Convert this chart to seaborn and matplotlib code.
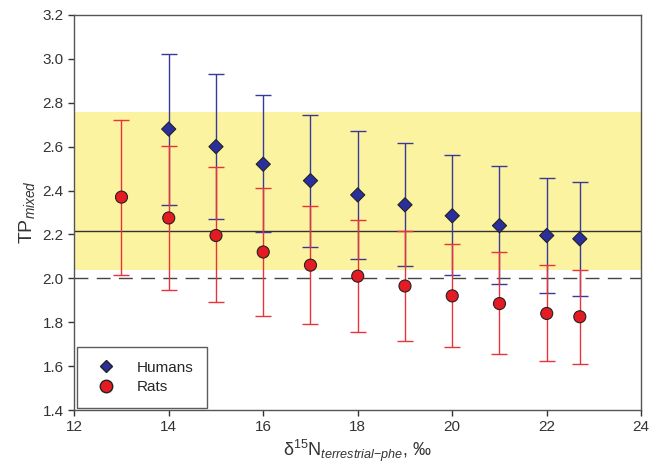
import numpy as np
import pandas as pd
import matplotlib
matplotlib.use("Agg")
import matplotlib.pyplot as plt
import seaborn as sns
from matplotlib.lines import Line2D

# data
human_x = [14, 15, 16, 17, 18, 19, 20, 21, 22, 22.7]
human_tp = [2.68, 2.60, 2.52, 2.445, 2.38, 2.335, 2.285, 2.24, 2.195, 2.18]
human_hi = [3.02, 2.93, 2.835, 2.745, 2.67, 2.615, 2.56, 2.51, 2.455, 2.44]
human_lo = [2.335, 2.27, 2.21, 2.145, 2.09, 2.055, 2.015, 1.975, 1.935, 1.92]

rat_x = [13, 14, 15, 16, 17, 18, 19, 20, 21, 22, 22.7]
rat_tp = [2.37, 2.275, 2.195, 2.12, 2.06, 2.01, 1.965, 1.92, 1.885, 1.84, 1.825]
rat_hi = [2.72, 2.605, 2.505, 2.41, 2.33, 2.265, 2.215, 2.155, 2.12, 2.06, 2.04]
rat_lo = [2.015, 1.945, 1.89, 1.83, 1.79, 1.755, 1.715, 1.685, 1.655, 1.625, 1.61]

band_lo, band_hi = 2.04, 2.76
mean_line = 2.215
ref_line = 2.0

sns.set_style("ticks")
plt.rcParams['font.family'] = ['Liberation Sans', 'DejaVu Sans']
plt.rcParams['mathtext.fontset'] = 'custom'
plt.rcParams['mathtext.rm'] = 'Liberation Sans'
plt.rcParams['mathtext.it'] = 'Liberation Sans:italic'

df = pd.concat([
    pd.DataFrame({"x": human_x, "tp": human_tp, "hi": human_hi, "lo": human_lo, "group": "Humans"}),
    pd.DataFrame({"x": rat_x, "tp": rat_tp, "hi": rat_hi, "lo": rat_lo, "group": "Rats"}),
])

fig = plt.figure(figsize=(6.57, 4.67), dpi=100)
ax = fig.add_axes([0.113, 0.122, 0.863, 0.846])

ax.axhspan(band_lo, band_hi, color="#fcf3a0", zorder=0, lw=0)
ax.axhline(mean_line, color="#333333", lw=1.0, zorder=1)
ax.axhline(ref_line, color="#444444", lw=1.0, ls=(0, (10, 6)), zorder=1)

colors = {"Humans": "#3a3a96", "Rats": "#e8333a"}
for g, sub in df.groupby("group"):
    yerr = np.vstack([sub["tp"] - sub["lo"], sub["hi"] - sub["tp"]])
    ax.errorbar(sub["x"], sub["tp"], yerr=yerr, fmt="none",
                ecolor=colors[g], elinewidth=1.0, capsize=6, capthick=1.0, zorder=2)

sns.scatterplot(data=df, x="x", y="tp", hue="group", style="group", size="group",
                markers={"Humans": "D", "Rats": "o"},
                palette={"Humans": "#2b2f9e", "Rats": "#e51b23"},
                sizes={"Humans": 52, "Rats": 75},
                edgecolor="#222222", linewidth=0.8, legend=False, ax=ax, zorder=3)

ax.set_xlim(12, 24)
ax.set_ylim(1.4, 3.2)
ax.set_xticks(np.arange(12, 25, 2))
ax.set_yticks(np.arange(1.4, 3.21, 0.2))
ax.set_yticklabels([f"{v:.1f}" for v in np.arange(1.4, 3.21, 0.2)])
ax.tick_params(labelsize=11, colors="#333333", length=4, width=1)
for s in ax.spines.values():
    s.set_color("#555555")
    s.set_linewidth(1.0)

ax.set_xlabel("δ$^{15}$N$_{terrestrial\\mathit{-}phe}$, ‰", fontsize=13, color="#333333", labelpad=2)
ax.set_ylabel(r"TP$_{mixed}$", fontsize=14, color="#333333", labelpad=4)

handles = [
    Line2D([], [], marker="D", ls="none", color="#2b2f9e", markeredgecolor="#222222", markersize=6, label="Humans"),
    Line2D([], [], marker="o", ls="none", color="#e51b23", markeredgecolor="#222222", markersize=9, label="Rats"),
]
leg = ax.legend(handles=handles, loc="lower left", fontsize=11, frameon=True, fancybox=False,
                edgecolor="#333333", borderpad=0.9, handletextpad=1.0, labelspacing=0.35,
                borderaxespad=0.0, bbox_to_anchor=(0.005, 0.006))
leg.get_frame().set_linewidth(1.0)

fig.savefig("out.png", dpi=100)
